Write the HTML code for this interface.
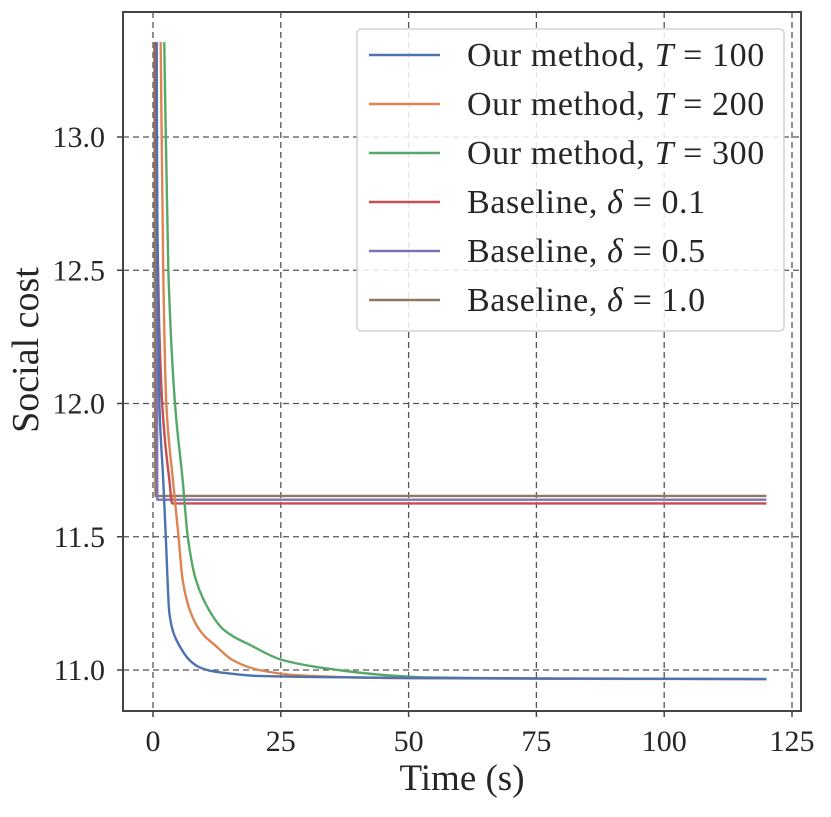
<!DOCTYPE html>
<html><head><meta charset="utf-8"><style>
body{margin:0;background:#fff}
svg text{font-family:"Liberation Serif",serif;fill:#262626}
</style></head><body>
<svg id="chart" width="831" height="812" xmlns="http://www.w3.org/2000/svg"></svg>
<script>
const xTicks=[0,25,50,75,100,125];
const yTicks=[11.0,11.5,12.0,12.5,13.0];
const yTickLabels=["11.0","11.5","12.0","12.5","13.0"];
const seriesPrefix=["Our method, ","Our method, ","Our method, ","Baseline, ","Baseline, ","Baseline, "];
const seriesSym=["T","T","T","δ","δ","δ"];
const seriesVal=["100","200","300","0.1","0.5","1.0"];
const seriesColors=["#4c72b0","#dd8452","#55a868","#c44e52","#8172b3","#937860"];
const blueT=[0.7,0.9,1.25,2.0,2.5,3.2,4.0,5.2,7,9,11,13.6,20,30,50,80,120];
const blueV=[13.356,12.5,12.0,11.713,11.5,11.214,11.14,11.09,11.04,11.011,10.998,10.99,10.978,10.974,10.97,10.968,10.966];
const orangeT=[1.5,2,2.6,3.9,5.0,5.8,7.4,9.5,12.3,15.5,20.7,28.5,45,80,120];
const orangeV=[13.356,12.5,12.0,11.713,11.5,11.338,11.214,11.14,11.09,11.038,11.0,10.98,10.97,10.967,10.966];
const greenT=[2.2,3.0,4.3,5.8,6.8,8.4,11.3,13.9,19.4,25.2,36.2,46,54,80,120];
const greenV=[13.356,12.5,12.0,11.713,11.5,11.338,11.214,11.15,11.09,11.038,11.0,10.98,10.972,10.968,10.966];
const redT=[0.5,0.8,1.2,1.8,2.4,3.2,3.75,120];
const redV=[13.356,12.7,12.3,12.0,11.85,11.713,11.625,11.625];
const purpleT=[0.7,0.85,120];
const purpleV=[13.356,11.639,11.639];
const brownT=[0.25,0.5,120];
const brownV=[13.356,11.653,11.653];
const allT=[blueT,orangeT,greenT,redT,purpleT,brownT];
const allV=[blueV,orangeV,greenV,redV,purpleV,brownV];

const L=123,R=801,T=12,B=711;
const X=t=>153+t*(639/125);
const Y=v=>670-(v-11)*266.5;
const svg=document.getElementById('chart');
const NS="http://www.w3.org/2000/svg";
function mk(tag,attrs,parent){const e=document.createElementNS(NS,tag);for(const k in attrs)e.setAttribute(k,attrs[k]);(parent||svg).appendChild(e);return e;}

// monotone cubic path in data space (x = t)
function monoPath(ts,vs){
  const n=ts.length;
  if(n<3){return ts.map((t,i)=>(i?'L':'M')+X(t).toFixed(2)+','+Y(vs[i]).toFixed(2)).join(' ');}
  const d=[],m=[];
  for(let i=0;i<n-1;i++)d.push((vs[i+1]-vs[i])/(ts[i+1]-ts[i]));
  m[0]=d[0];m[n-1]=d[n-2];
  for(let i=1;i<n-1;i++){
    if(d[i-1]*d[i]<=0)m[i]=0;
    else{const w1=2*(ts[i+1]-ts[i])+(ts[i]-ts[i-1]),w2=(ts[i+1]-ts[i])+2*(ts[i]-ts[i-1]);m[i]=(w1+w2)/(w1/d[i-1]+w2/d[i]);}
  }
  let p='M'+X(ts[0]).toFixed(2)+','+Y(vs[0]).toFixed(2);
  for(let i=0;i<n-1;i++){
    const h=ts[i+1]-ts[i];
    p+=' C'+X(ts[i]+h/3).toFixed(2)+','+Y(vs[i]+m[i]*h/3).toFixed(2)+' '+X(ts[i+1]-h/3).toFixed(2)+','+Y(vs[i+1]-m[i+1]*h/3).toFixed(2)+' '+X(ts[i+1]).toFixed(2)+','+Y(vs[i+1]).toFixed(2);
  }
  return p;
}

const grid=mk('g',{});


xTicks.forEach(t=>{
  const l=mk('line',{x1:X(t),x2:X(t),y1:T,y2:B,stroke:'#555','stroke-width':1.3,'stroke-dasharray':'6,4'},grid);
  
  
  const tx=mk('text',{x:X(t),y:751,'font-size':30,'text-anchor':'middle'});
  tx.textContent=t;
  
  
  mk('line',{x1:X(t),x2:X(t),y1:B,y2:B+6,stroke:'#444','stroke-width':1.5});
});
yTicks.forEach((v,i)=>{
  const l=mk('line',{x1:L,x2:R,y1:Y(v),y2:Y(v),stroke:'#555','stroke-width':1.3,'stroke-dasharray':'6,4'},grid);
  
  
  const tx=mk('text',{x:105,y:Y(v)+10,'font-size':30,'text-anchor':'end'});
  tx.textContent=yTickLabels[i];
  
  
  mk('line',{x1:L-6,x2:L,y1:Y(v),y2:Y(v),stroke:'#444','stroke-width':1.5});
});

const lines=mk('g',{});


for(let s=5;s>=0;s--){
  const p=mk('path',{d:monoPath(allT[s],allV[s]),fill:'none',stroke:seriesColors[s],'stroke-width':2.4,'stroke-linejoin':'round'},lines);
  
  
}

const frame=mk('rect',{x:L,y:T,width:R-L,height:B-T,fill:'none',stroke:'#444','stroke-width':2});



const leg=mk('g',{});


mk('rect',{x:357,y:29,width:427,height:302,rx:4,fill:'#fff','fill-opacity':0.85,stroke:'#ccc','stroke-width':1.3},leg);
seriesPrefix.forEach((n,i)=>{
  const y=55+i*49;
  const e=mk('g',{},leg);
  
  
  mk('line',{x1:369,x2:440,y1:y,y2:y,stroke:seriesColors[i],'stroke-width':2.4},e);
  const tx=mk('text',{x:467,y:y+11,'font-size':34,'letter-spacing':'0.6'},e);
  const a=mk('tspan',{},tx);a.textContent=n;
  const b=mk('tspan',{'font-style':'italic'},tx);b.textContent=seriesSym[i];
  const c=mk('tspan',{},tx);c.textContent=' = '+seriesVal[i];
});

const xl=mk('text',{x:462,y:790,'font-size':37,'text-anchor':'middle'});
xl.textContent='Time (s)';


const yl=mk('text',{x:0,y:0,'font-size':38,'text-anchor':'middle',transform:'translate(38,350) rotate(-90)'});
yl.textContent='Social cost';


</script>
</body></html>
